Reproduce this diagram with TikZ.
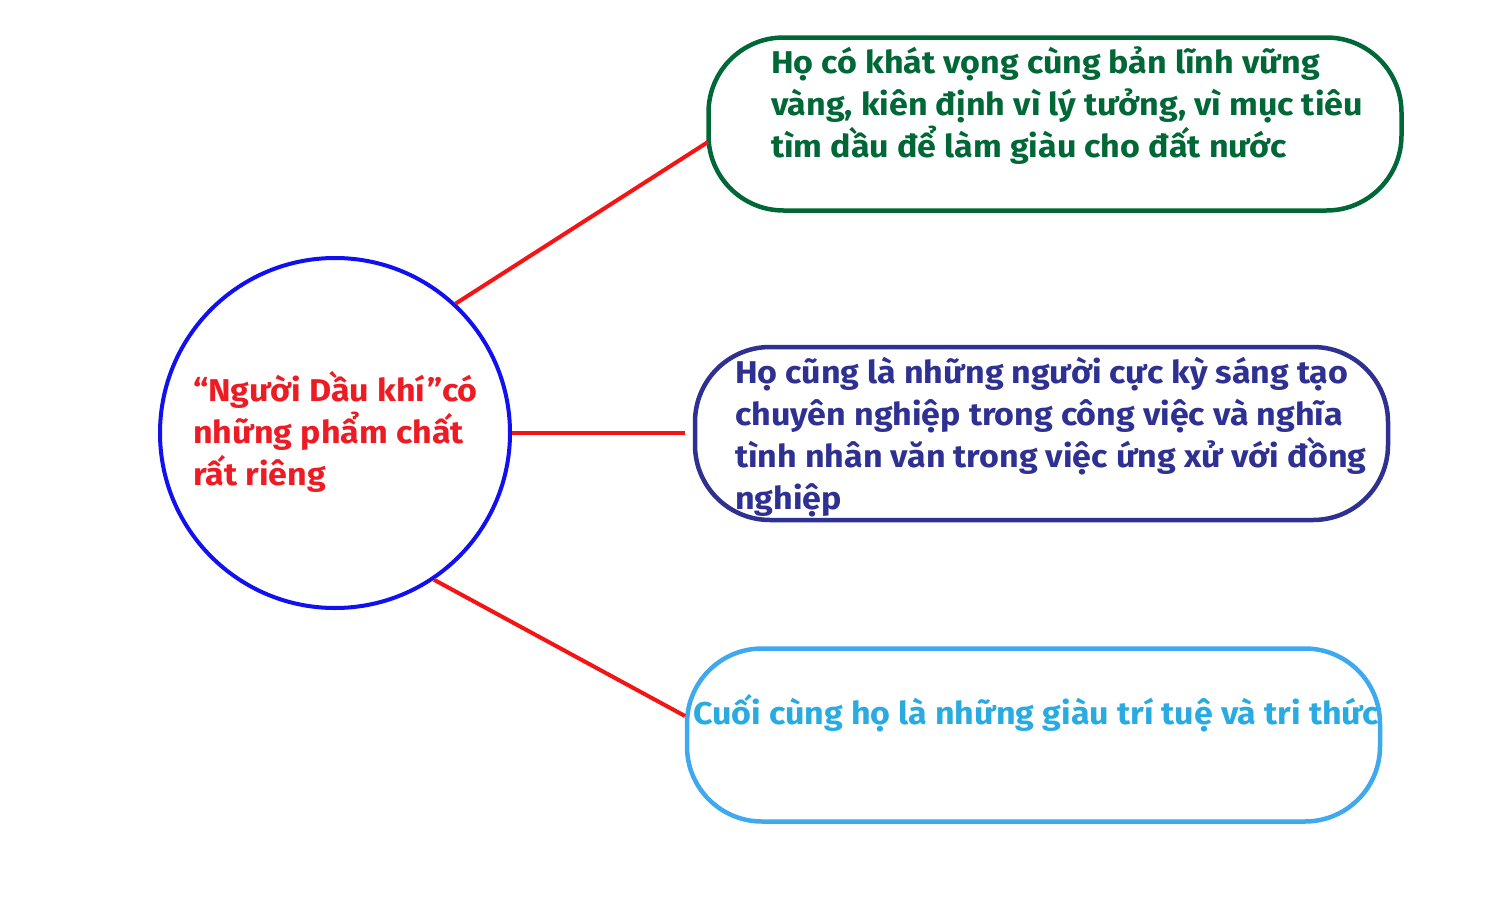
\documentclass[tikz,border=0pt]{standalone}
\usepackage{fontspec}
\setmainfont{Fira Sans}[FakeStretch=1.08]
\usepackage{tikz}
\usetikzlibrary{positioning}
\definecolor{hubblue}{HTML}{1010F0}
\definecolor{hubred}{HTML}{ED1C24}
\definecolor{linkred}{HTML}{F41414}
\definecolor{boxgreen}{HTML}{006837}
\definecolor{boxnavy}{HTML}{2E3192}
\definecolor{boxsky}{HTML}{3FA9F0}
\definecolor{textsky}{HTML}{29ABE2}
\tikzset{
    quality/.style={rectangle,rounded corners=75pt,line width=4.5pt,minimum width=693pt,minimum height=173pt},
    qtext/.style={anchor=north west,inner sep=0pt,align=left,font=\fontsize{31.5}{42}\selectfont\bfseries},
    link/.style={draw=linkred,line width=4pt},
}

\begin{document}
\begin{tikzpicture}[x=1pt,y=-1pt]
    \useasboundingbox (0,0) rectangle (1500,910);
    \node (hub) at (335,433) [circle,draw=hubblue,line width=4pt,minimum size=350pt] {};
    \node (hubtext) at (193,371) [qtext,text=hubred] {“Người Dầu khí”có\\những phẩm chất\\rất riêng};
    \node (vision) at (1055,124) [quality,draw=boxgreen] {};
    \node (visiontext) at (771,46) [qtext,text=boxgreen] {Họ có khát vọng cùng bản lĩnh vững\\vàng, kiên định vì lý tưởng, vì mục tiêu\\tìm dầu để làm giàu cho đất nước};
    \node (creative) at (1041.5,433.5) [quality,draw=boxnavy] {};
    \node (creativetext) at (735,357) [qtext,text=boxnavy] {Họ cũng là những người cực kỳ sáng tạo\\chuyên nghiệp trong công việc và nghĩa\\tình nhân văn trong việc ứng xử với đồng\\nghiệp};
    \node (wisdom) at (1033.5,735) [quality,draw=boxsky] {};
    \node (wisdomtext) at (693,694) [qtext,text=textsky] {Cuối cùng họ là những giàu trí tuệ và tri thức};
    % ends of the red links
    \coordinate (visionend) at (708,142);
    \coordinate (creativeend) at (685,433);
    \coordinate (wisdomend) at (685,716);
    \path [link] (hub.47) -- (visionend);
    \path [link] (hub.east) -- (creativeend);
    \path [link] (hub.-56) -- (wisdomend);
\end{tikzpicture}
\end{document}
